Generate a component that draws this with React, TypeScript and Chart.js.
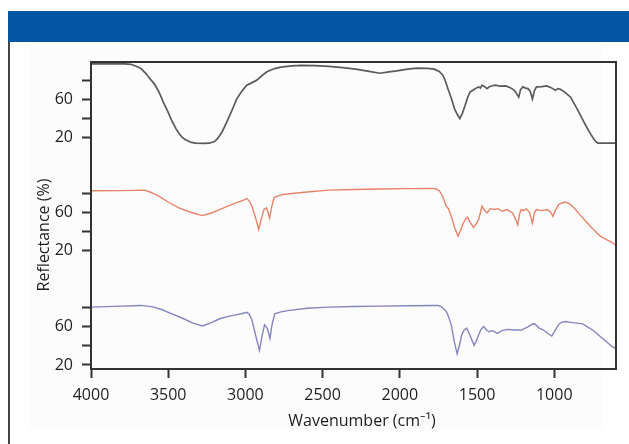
import React, { useEffect, useRef } from "react";
import { Chart, registerables } from "chart.js";

Chart.register(...registerables);

// ---- Data ----
const topWavenumbers = [4000,3900,3780,3741,3700,3675,3640,3620,3590,3565,3545,3532,3500,3476,3450,3432,3410,3388,3350,3322,3270,3234,3200,3178,3150,3123,3090,3057,3020,2991,2960,2925,2890,2858,2810,2770,2700,2638,2550,2461,2370,2285,2200,2130,2070,2020,1950,1887,1820,1777,1745,1722,1705,1689,1665,1645,1625,1611,1595,1578,1560,1545,1520,1500,1490,1478,1468,1450,1435,1420,1400,1380,1350,1313,1285,1258,1245,1230,1218,1203,1185,1170,1155,1141,1128,1115,1080,1048,1020,993,975,960,930,894,860,828,795,762,740,718,600];
const topReflectance = [97,97,97,96.5,94,92,86,81.7,76,69,62,56.7,46,37,29,24.4,20,17.3,14.5,13.7,13.5,13.7,15.5,19,26,35,47,60,69,74.6,77,80,85,88.9,92,93.5,94.8,95.3,95,94.3,93,91.4,89,87.1,88.5,89.6,91.5,92.5,92.2,91.4,89,85.3,79,71,60,49.5,43,39.5,45,53,62,67.4,70,72,72.8,71.5,74.6,73,71,73,74,74.6,73.5,73.8,72,69.2,66,62,70,72.8,71.5,71,68,60.2,69,72.8,73,73.8,72,69.2,71,70.3,67,62,52,42.4,32,22.7,17,13.7,13.7];

const middleWavenumbers = [4000,3800,3653,3610,3565,3500,3432,3350,3278,3220,3167,3110,3057,3020,2991,2975,2958,2935,2914,2898,2880,2863,2853,2843,2830,2814,2780,2748,2600,2461,2300,2130,1950,1799,1770,1744,1720,1700,1685,1667,1645,1623,1605,1589,1575,1561,1545,1523,1505,1490,1478,1468,1450,1435,1415,1391,1365,1336,1305,1270,1250,1236,1225,1214,1200,1181,1160,1141,1128,1115,1080,1048,1025,1009,990,971,950,927,900,872,830,784,740,700,673,630,600];
const middleReflectance = [82.8,83,83.5,81,77.4,71,64.9,60,56.7,59.5,63.1,67,70.3,72.5,74.6,72,66.7,55,42.3,53,63.1,64.9,60,54.2,66,75.6,78,79.2,81.5,83.5,84.2,84.6,85,85.3,85,82.8,76,66.7,64,56,44,35.2,42,48.8,53,55.2,50,44.5,48,52.4,60,66.7,62,59.5,64,63.1,64,61.3,63,59.5,53,47,58,63.1,62,63.8,60,48.8,60,63.1,62,63.1,61,56,63,68.5,70,71,69,64.9,57,48.8,41,35,32.7,29,25.5];

const bottomWavenumbers = [4000,3850,3675,3600,3543,3480,3410,3340,3278,3220,3167,3110,3057,3020,2991,2975,2958,2935,2909,2893,2876,2858,2841,2828,2810,2770,2726,2600,2461,2300,2130,1950,1755,1730,1700,1685,1667,1648,1629,1612,1600,1583,1567,1548,1519,1505,1490,1475,1457,1440,1424,1400,1369,1340,1302,1260,1214,1170,1140,1126,1100,1071,1040,1016,995,971,950,927,880,817,785,751,710,673,630,600];
const bottomReflectance = [80.7,81.5,82.5,81,78.2,74,69.3,64,61,64.5,68.5,71,72.8,74,75.3,73,67.5,52,35.2,50,62.1,58.5,47.8,62,73.6,75.8,77.1,79.5,80.7,81.3,81.8,82.2,82.5,81,76.4,71,62.1,45,31.7,42,51.4,57,58.5,52,40.6,45,51.4,57,60.3,57,54.9,56,53.2,56,57.4,56.7,56.7,60,63,63.2,59,56.7,53,50.3,56,62.8,65,65.7,64.5,63.2,60,56.7,51,46,40,37];

const xTickValues = [4000, 3500, 3000, 2500, 2000, 1500, 1000];
const yPanelTicks = [20, 40, 60, 80];
const yLabeledTicks = [20, 60];

// vertical stacking offsets of the three panels (top, middle, bottom)
const panelOffsets = [239, 120, 0];

const FONT = "'Open Sans', 'Noto Sans', 'DejaVu Sans', sans-serif";

function toPoints(xs: number[], ys: number[], offset: number) {
  const n = Math.min(xs.length, ys.length);
  const pts: { x: number; y: number }[] = [];
  for (let i = 0; i < n; i++) pts.push({ x: xs[i], y: ys[i] + offset });
  return pts;
}

const framePlugin = {
  id: "frameAndTitles",
  afterDraw(chart: any) {
    const { ctx, chartArea } = chart;
    ctx.save();
    ctx.strokeStyle = "#333333";
    ctx.lineWidth = 2;
    ctx.strokeRect(chartArea.left, chartArea.top, chartArea.right - chartArea.left, chartArea.bottom - chartArea.top);
    ctx.fillStyle = "#1e1e1e";
    ctx.font = `16px ${FONT}`;
    ctx.textAlign = "center";
    ctx.textBaseline = "middle";
    ctx.fillText("Wavenumber (cm\u207B\u00B9)", 362, 421);
    ctx.translate(44, 235);
    ctx.rotate(-Math.PI / 2);
    ctx.fillText("Reflectance (%)", 0, 0);
    ctx.restore();
  },
};

export default function App() {
  const canvasRef = useRef<HTMLCanvasElement | null>(null);

  useEffect(() => {
    if (!canvasRef.current) return;
    const yTickList: number[] = [];
    panelOffsets.slice().reverse().forEach((off) => {
      yPanelTicks.forEach((t) => yTickList.push(t + off));
    });

    const chart = new Chart(canvasRef.current, {
      type: "line",
      data: {
        datasets: [
          {
            label: "Top",
            data: toPoints(topWavenumbers, topReflectance, panelOffsets[0]),
            borderColor: "#5a5a5a",
            borderWidth: 1.7,
            pointRadius: 0,
            fill: false,
            tension: 0,
          },
          {
            label: "Middle",
            data: toPoints(middleWavenumbers, middleReflectance, panelOffsets[1]),
            borderColor: "#e8836a",
            borderWidth: 1.4,
            pointRadius: 0,
            fill: false,
            tension: 0,
          },
          {
            label: "Bottom",
            data: toPoints(bottomWavenumbers, bottomReflectance, panelOffsets[2]),
            borderColor: "#8585c0",
            borderWidth: 1.4,
            pointRadius: 0,
            fill: false,
            tension: 0,
          },
        ],
      },
      options: {
        animation: false,
        responsive: false,
        maintainAspectRatio: false,
        parsing: false as any,
        layout: { padding: { top: 62, right: 13, left: 0, bottom: 0 } },
        plugins: {
          legend: { display: false },
          tooltip: { enabled: false },
          title: { display: false },
        },
        scales: {
          x: {
            type: "linear",
            reverse: true,
            min: 600,
            max: 4000,
            afterBuildTicks: (scale: any) => {
              scale.ticks = xTickValues.map((v) => ({ value: v }));
            },
            afterFit: (scale: any) => {
              scale.height = 75;
            },
            grid: {
              drawOnChartArea: false,
              drawTicks: true,
              tickLength: 9,
              tickColor: "#333333",
              tickWidth: 2,
            },
            border: { display: true, color: "#333333", width: 2 },
            ticks: {
              padding: 8,
              autoSkip: false,
              maxRotation: 0,
              color: "#1e1e1e",
              font: { family: FONT, size: 16 },
              callback: (v: any) => String(v),
            },
          },
          y: {
            type: "linear",
            min: 15.8,
            max: 337.9,
            afterBuildTicks: (scale: any) => {
              scale.ticks = yTickList.map((v) => ({ value: v }));
            },
            afterFit: (scale: any) => {
              scale.width = 91;
            },
            grid: {
              drawOnChartArea: false,
              drawTicks: true,
              tickLength: 9,
              tickColor: "#333333",
              tickWidth: 2,
            },
            border: { display: true, color: "#333333", width: 2 },
            ticks: {
              padding: 9,
              autoSkip: false,
              color: "#1e1e1e",
              font: { family: FONT, size: 16 },
              callback: (v: any) => {
                const num = Number(v);
                for (const off of panelOffsets) {
                  const base = Math.round(num - off);
                  if (Math.abs(num - off - base) < 0.01 && yPanelTicks.includes(base)) {
                    return yLabeledTicks.includes(base) ? String(base) : "";
                  }
                }
                return "";
              },
            },
          },
        },
      },
      plugins: [framePlugin],
    } as any);

    return () => chart.destroy();
  }, []);

  return (
    <div style={{ position: "absolute", left: 0, top: 0, width: 629, height: 444, background: "#ffffff", overflow: "hidden" }}>
      <div style={{ position: "absolute", left: 8, top: 11, width: 621, height: 31, background: "#0256a2" }} />
      <div style={{ position: "absolute", left: 8, top: 42, width: 1.5, height: 402, background: "#444444" }} />
      <div style={{ position: "absolute", left: 29, top: 46, width: 574, height: 384, background: "#fcfcfc" }} />
      <canvas ref={canvasRef} width={629} height={444} style={{ position: "absolute", left: 0, top: 0, width: 629, height: 444 }} />
    </div>
  );
}
